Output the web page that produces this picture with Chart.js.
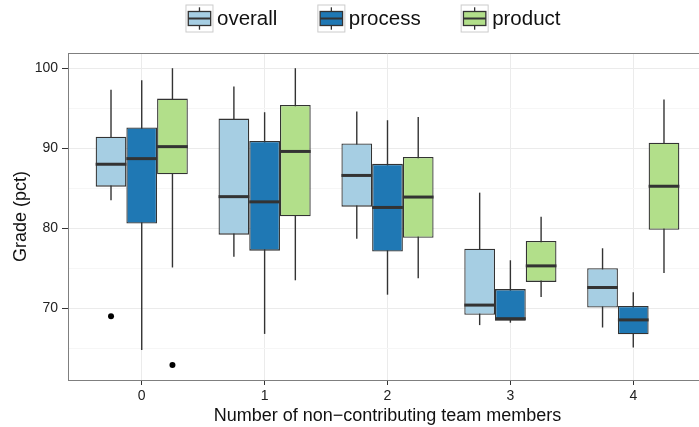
<!DOCTYPE html>
<html><head><meta charset="utf-8">
<script src="https://cdn.jsdelivr.net/npm/chart.js@4/dist/chart.umd.min.js"></script>
<style>
html,body{margin:0;padding:0;overflow:hidden;background:#fff;width:699px;height:427px}
#wrap{width:710px;height:427px}
</style>
</head><body>
<div id="wrap"><canvas id="c" width="710" height="427"></canvas></div>
<script>
// ---- data ----
const categories = [0, 1, 2, 3, 4];
const seriesNames = ['overall', 'process', 'product'];
const seriesColors = ['#A6CEE3', '#1F78B4', '#B2DF8A'];
// five-number summaries per category: [lower whisker, Q1, median, Q3, upper whisker]
const overallStats = [
  [83.5, 85.2, 88.0, 91.45, 97.3],
  [76.45, 79.2, 83.95, 93.7, 97.7],
  [78.7, 82.7, 86.6, 90.6, 94.6],
  [67.9, 69.2, 70.4, 77.45, 84.45],
  [67.6, 70.1, 72.6, 75.0, 77.5]
];
const processStats = [
  [64.8, 80.6, 88.7, 92.6, 98.5],
  [66.8, 77.2, 83.3, 90.9, 94.5],
  [71.7, 77.1, 82.6, 88.05, 93.5],
  [68.2, 68.45, 68.7, 72.4, 76.0],
  [65.1, 66.75, 68.55, 70.3, 72.0]
];
const productStats = [
  [75.1, 86.75, 90.2, 96.2, 100.0],
  [73.5, 81.5, 89.6, 95.4, 100.0],
  [73.75, 78.8, 83.9, 88.9, 93.9],
  [71.4, 73.3, 75.3, 78.4, 81.45],
  [74.4, 79.8, 85.25, 90.7, 96.1]
];
// outliers per category
const overallOutliers = [[69.0], [], [], [], []];
const processOutliers = [[], [], [], [], []];
const productOutliers = [[62.9], [], [], [], []];
const yTickLabels = [70, 80, 90, 100];
const xTitle = 'Number of non\u2212contributing team members';
const yTitle = 'Grade (pct)';

// ---- chart ----
const FONT = '"Liberation Sans", Arial, Helvetica, sans-serif';
const allStats = [overallStats, processStats, productStats];
const allOutliers = [overallOutliers, processOutliers, productOutliers];
const groupWidth = 0.75;
const slot = groupWidth / seriesNames.length;

const barDatasets = seriesNames.map((name, s) => ({
  type: 'bar',
  label: name,
  data: categories.map((c, i) => ({ x: c, y: [allStats[s][i][1], allStats[s][i][3]] })),
  stats: allStats[s],
  backgroundColor: seriesColors[s],
  borderColor: '#333333',
  borderWidth: 1.3,
  borderSkipped: false,
  categoryPercentage: groupWidth,
  barPercentage: 1.0,
  grouped: true
}));

const outlierPoints = [];
seriesNames.forEach((name, s) => {
  categories.forEach((c, i) => {
    allOutliers[s][i].forEach(v => outlierPoints.push({ x: c + (s - 1) * slot, y: v }));
  });
});

const boxPlugin = {
  id: 'boxParts',
  beforeDatasetsDraw(chart) {
    const ctx = chart.ctx, ys = chart.scales.y, a = chart.chartArea;
    ctx.save();
    // top / right panel border
    ctx.strokeStyle = '#7f7f7f';
    ctx.lineWidth = 1;
    ctx.beginPath();
    ctx.moveTo(a.left, a.top + 0.5); ctx.lineTo(a.right, a.top + 0.5);
    ctx.moveTo(a.right - 0.5, a.top); ctx.lineTo(a.right - 0.5, a.bottom);
    ctx.stroke();
    // whiskers
    ctx.strokeStyle = '#333333';
    ctx.lineWidth = 1.4;
    chart.data.datasets.forEach((ds, d) => {
      if (!ds.stats) return;
      const meta = chart.getDatasetMeta(d);
      meta.data.forEach((el, i) => {
        const st = ds.stats[i];
        ctx.beginPath();
        ctx.moveTo(el.x, ys.getPixelForValue(st[0]));
        ctx.lineTo(el.x, ys.getPixelForValue(st[4]));
        ctx.stroke();
      });
    });
    ctx.restore();
  },
  afterDatasetsDraw(chart) {
    const ctx = chart.ctx, ys = chart.scales.y;
    ctx.save();
    ctx.strokeStyle = '#333333';
    ctx.lineWidth = 3;
    ctx.lineCap = 'butt';
    chart.data.datasets.forEach((ds, d) => {
      if (!ds.stats) return;
      const meta = chart.getDatasetMeta(d);
      meta.data.forEach((el, i) => {
        const y = ys.getPixelForValue(ds.stats[i][2]);
        ctx.beginPath();
        ctx.moveTo(el.x - el.width / 2, y);
        ctx.lineTo(el.x + el.width / 2, y);
        ctx.stroke();
      });
    });
    ctx.restore();
  },
  afterDraw(chart) {
    // legend with boxplot keys
    const ctx = chart.ctx;
    ctx.save();
    const fs = 20.5;
    ctx.font = fs + 'px ' + FONT;
    const key = 28, gapText = 3.5, gapItem = 40;
    const widths = seriesNames.map(n => ctx.measureText(n).width);
    const total = seriesNames.length * (key + gapText) + widths.reduce((a, b) => a + b, 0) + gapItem * (seriesNames.length - 1);
    let x = 373 - total / 2;
    const top = 4.5;
    seriesNames.forEach((n, s) => {
      ctx.fillStyle = '#ffffff';
      ctx.fillRect(x, top, key, key);
      ctx.strokeStyle = '#cccccc';
      ctx.lineWidth = 1;
      ctx.strokeRect(x + 0.5, top + 0.5, key - 1, key - 1);
      const cx = x + key / 2;
      ctx.strokeStyle = '#333333';
      ctx.lineWidth = 1.3;
      ctx.beginPath();
      ctx.moveTo(cx, top + key * 0.1); ctx.lineTo(cx, top + key * 0.9);
      ctx.stroke();
      ctx.fillStyle = seriesColors[s];
      const bx = x + key * 0.1, by = top + key * 0.25, bw = key * 0.8, bh = key * 0.5;
      ctx.fillRect(bx, by, bw, bh);
      ctx.strokeRect(bx, by, bw, bh);
      ctx.lineWidth = 2;
      ctx.beginPath();
      ctx.moveTo(bx, top + key / 2); ctx.lineTo(bx + bw, top + key / 2);
      ctx.stroke();
      ctx.fillStyle = '#111111';
      ctx.textBaseline = 'middle';
      ctx.textAlign = 'left';
      ctx.fillText(n, x + key + gapText, top + key / 2 + 1);
      x += key + gapText + widths[s] + gapItem;
    });
    ctx.restore();
  }
};

new Chart(document.getElementById('c'), {
  type: 'bar',
  data: {
    datasets: [
      ...barDatasets,
      {
        type: 'scatter',
        label: 'outliers',
        data: outlierPoints,
        pointRadius: 3,
        pointHoverRadius: 3,
        backgroundColor: '#000000',
        borderWidth: 0
      }
    ]
  },
  options: {
    responsive: false,
    animation: false,
    devicePixelRatio: 1,
    layout: { padding: { top: 53, right: 1, left: 0, bottom: 0 } },
    plugins: { legend: { display: false }, tooltip: { enabled: false } },
    scales: {
      x: {
        type: 'linear',
        min: -0.6,
        max: 4.6,
        offset: false,
        ticks: {
          stepSize: 1,
          includeBounds: false,
          autoSkip: false,
          maxRotation: 0,
          padding: 3,
          color: '#222222',
          font: { family: FONT, size: 14 },
          callback: v => (categories.includes(v) ? String(v) : '')
        },
        grid: { offset: false, color: '#ebebeb', lineWidth: 1, tickColor: '#333333', tickLength: 5 },
        border: { color: '#7f7f7f', width: 1 },
        title: { display: true, text: xTitle, color: '#111111', font: { family: FONT, size: 18 }, padding: { top: 0, bottom: 0 } },
        afterFit: s => { s.height = 47; }
      },
      y: {
        type: 'linear',
        min: 61.04,
        max: 101.9,
        ticks: {
          stepSize: 5,
          includeBounds: false,
          autoSkip: false,
          padding: 4,
          color: '#222222',
          font: { family: FONT, size: 14 },
          callback: v => (yTickLabels.includes(v) ? String(v) : '')
        },
        grid: {
          color: c => (c.tick && yTickLabels.includes(c.tick.value) ? '#ebebeb' : '#f6f6f6'),
          tickColor: c => (c.tick && yTickLabels.includes(c.tick.value) ? '#333333' : 'rgba(0,0,0,0)'),
          lineWidth: 1,
          tickLength: 6
        },
        border: { color: '#7f7f7f', width: 1 },
        title: { display: true, text: yTitle, color: '#111111', font: { family: FONT, size: 18 }, padding: { top: 10, bottom: 0 } },
        afterFit: s => { s.width = 68; }
      }
    }
  },
  plugins: [boxPlugin]
});
</script>
</body></html>
